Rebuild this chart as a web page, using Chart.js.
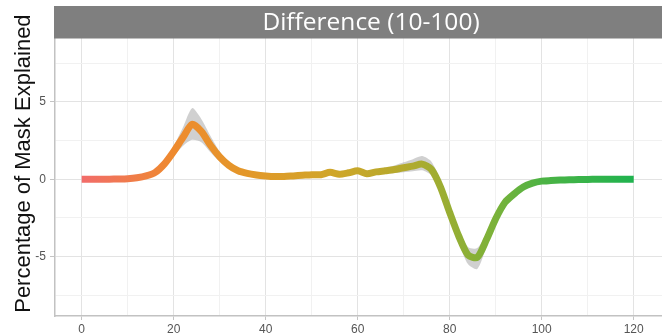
<!DOCTYPE html>
<html>
<head>
<meta charset="utf-8">
<script src="https://cdn.jsdelivr.net/npm/chart.js@4/dist/chart.umd.min.js"></script>
<style>
  html, body { margin: 0; padding: 0; background: #ffffff; }
  #wrap { width: 662px; height: 336px; }
</style>
</head>
<body>
<div id="wrap"><canvas id="chart" width="662" height="336"></canvas></div>
<script>
// Positions along the mask (x) and the explained-percentage difference
const xValues = [0,2,4,6,8,10,12,14,16,18,20,22,24,26,28,30,32,34,36,38,40,42,44,46,48,50,52,54,56,58,60,62,64,66,68,70,72,74,76,78,80,82,84,86,88,90,92,94,96,98,100,102,104,106,108,110,112,114,116,118,120];
const meanValues = [0.00,0.00,0.00,0.01,0.02,0.04,0.10,0.22,0.45,1.00,1.80,2.70,3.55,3.10,2.20,1.45,0.90,0.55,0.38,0.28,0.22,0.18,0.18,0.22,0.26,0.30,0.30,0.45,0.33,0.42,0.55,0.36,0.48,0.55,0.63,0.75,0.85,0.98,0.65,-0.50,-2.15,-3.70,-4.90,-5.05,-3.90,-2.55,-1.50,-0.95,-0.50,-0.25,-0.12,-0.08,-0.05,-0.03,-0.02,-0.01,0.00,0.00,0.00,0.00,0.00];
const lowerValues = [-0.05,-0.05,-0.05,-0.04,-0.03,-0.02,0.03,0.13,0.33,0.82,1.50,2.15,2.55,2.40,1.75,1.15,0.72,0.45,0.30,0.20,0.14,0.10,0.10,0.13,0.17,0.20,0.19,0.34,0.21,0.30,0.42,0.23,0.33,0.36,0.40,0.45,0.52,0.58,0.25,-0.95,-2.55,-4.15,-5.50,-5.80,-4.35,-2.80,-1.65,-1.05,-0.58,-0.31,-0.17,-0.12,-0.09,-0.07,-0.06,-0.05,-0.04,-0.04,-0.04,-0.04,-0.04];
const upperValues = [0.05,0.05,0.05,0.06,0.07,0.10,0.17,0.31,0.58,1.20,2.15,3.35,4.60,3.90,2.80,1.80,1.08,0.66,0.47,0.36,0.30,0.26,0.27,0.31,0.35,0.40,0.41,0.57,0.45,0.55,0.68,0.50,0.63,0.75,0.90,1.10,1.30,1.50,1.15,-0.05,-1.75,-3.25,-4.40,-4.45,-3.45,-2.30,-1.35,-0.85,-0.42,-0.19,-0.07,-0.04,-0.01,0.01,0.02,0.03,0.04,0.04,0.04,0.04,0.04];

// Axis breaks (major ones are labelled, minor ones only get a faint grid line)
const xMajorTicks = [0,20,40,60,80,100,120];
const xMinorTicks = [10,30,50,70,90,110];
const yMajorTicks = [-5,0,5];
const yMinorTicks = [-7.5,-2.5,2.5,7.5];

const panelTitle = 'Difference (10-100)';
const yTitle = 'Percentage of Mask Explained';

// Colour ramp of the line along x
const lineColorStops = [
  [0,   '#f26c6a'],
  [20,  '#ee8a2e'],
  [35,  '#e4972a'],
  [55,  '#cfa629'],
  [70,  '#b4aa2d'],
  [80,  '#98ae33'],
  [90,  '#7ab23a'],
  [100, '#4db344'],
  [120, '#1fb34f']
];

const toPoints = (ys) => xValues.map((x, i) => ({ x: x, y: ys[i] }));

function lineGradient(context) {
  const chart = context.chart;
  const area = chart.chartArea;
  if (!area) return '#e08a30';
  const xs = chart.scales.x;
  const x0 = xs.getPixelForValue(0);
  const x1 = xs.getPixelForValue(120);
  const g = chart.ctx.createLinearGradient(x0, 0, x1, 0);
  lineColorStops.forEach(([v, c]) => g.addColorStop(v / 120, c));
  return g;
}

const stripPlugin = {
  id: 'panelStrip',
  afterDraw(chart) {
    const c = chart.ctx;
    const area = chart.chartArea;
    c.save();
    c.fillStyle = '#7f7f7f';
    c.fillRect(area.left - 1, 6, chart.width - area.left + 1, 32.5);
    c.fillStyle = '#ffffff';
    c.font = '24.5px "Open Sans", "Liberation Sans", sans-serif';
    c.textAlign = 'center';
    c.textBaseline = 'middle';
    c.fillText(panelTitle, 371, 23);
    c.restore();
  }
};

const gridMajor = '#e3e3e3';
const gridMinor = '#f1f1f1';

new Chart(document.getElementById('chart'), {
  type: 'line',
  data: {
    datasets: [
      {
        label: 'lower',
        data: toPoints(lowerValues),
        borderWidth: 0,
        pointRadius: 0,
        fill: false,
        tension: 0.25,
        order: 2
      },
      {
        label: 'upper',
        data: toPoints(upperValues),
        borderWidth: 0,
        pointRadius: 0,
        backgroundColor: 'rgba(170,170,170,0.55)',
        fill: '-1',
        tension: 0.25,
        order: 1
      },
      {
        label: 'mean',
        data: toPoints(meanValues),
        borderColor: lineGradient,
        borderWidth: 7,
        pointRadius: 0,
        fill: false,
        tension: 0.25,
        borderCapStyle: 'butt',
        borderJoinStyle: 'round',
        order: 0
      }
    ]
  },
  options: {
    responsive: false,
    animation: false,
    events: [],
    layout: { padding: { top: 6, left: 0, right: 0, bottom: 0 } },
    plugins: {
      legend: { display: false },
      tooltip: { enabled: false },
      filler: { drawTime: 'beforeDatasetsDraw' }
    },
    scales: {
      x: {
        type: 'linear',
        min: -5.8,
        max: 126.15,
        afterBuildTicks(scale) {
          scale.ticks = xMajorTicks.concat(xMinorTicks).sort((a, b) => a - b).map(v => ({ value: v }));
        },
        afterFit(scale) { scale.height = 20; },
        ticks: {
          autoSkip: false,
          maxRotation: 0,
          padding: 2,
          color: '#555555',
          font: { family: '"Liberation Sans", Arial, sans-serif', size: 12 },
          callback: (v) => (xMajorTicks.includes(v) ? String(v) : '')
        },
        grid: {
          color: (ctx) => (ctx.tick && xMajorTicks.includes(ctx.tick.value) ? gridMajor : gridMinor),
          tickColor: (ctx) => (ctx.tick && xMajorTicks.includes(ctx.tick.value) ? '#c4c4c4' : 'rgba(0,0,0,0)'),
          tickLength: 4,
          lineWidth: 1
        },
        border: { display: true, color: '#c2c2c2', width: 1.5 }
      },
      y: {
        type: 'linear',
        min: -8.84,
        max: 10.87,
        afterBuildTicks(scale) {
          scale.ticks = yMajorTicks.concat(yMinorTicks).sort((a, b) => a - b).map(v => ({ value: v }));
        },
        afterFit(scale) { scale.width = 55; },
        ticks: {
          autoSkip: false,
          padding: 4,
          color: '#555555',
          font: { family: '"Liberation Sans", Arial, sans-serif', size: 12 },
          callback: (v) => (yMajorTicks.includes(v) ? String(v) : '')
        },
        grid: {
          color: (ctx) => (ctx.tick && yMajorTicks.includes(ctx.tick.value) ? gridMajor : gridMinor),
          tickColor: (ctx) => (ctx.tick && yMajorTicks.includes(ctx.tick.value) ? '#c4c4c4' : 'rgba(0,0,0,0)'),
          tickLength: 5,
          lineWidth: 1
        },
        border: { display: true, color: '#c2c2c2', width: 1.5 },
        title: {
          display: true,
          text: yTitle,
          color: '#111111',
          padding: { top: 11, bottom: 0 },
          font: { family: '"Liberation Sans", Arial, sans-serif', size: 22 }
        }
      }
    }
  },
  plugins: [stripPlugin]
});
</script>
</body>
</html>
